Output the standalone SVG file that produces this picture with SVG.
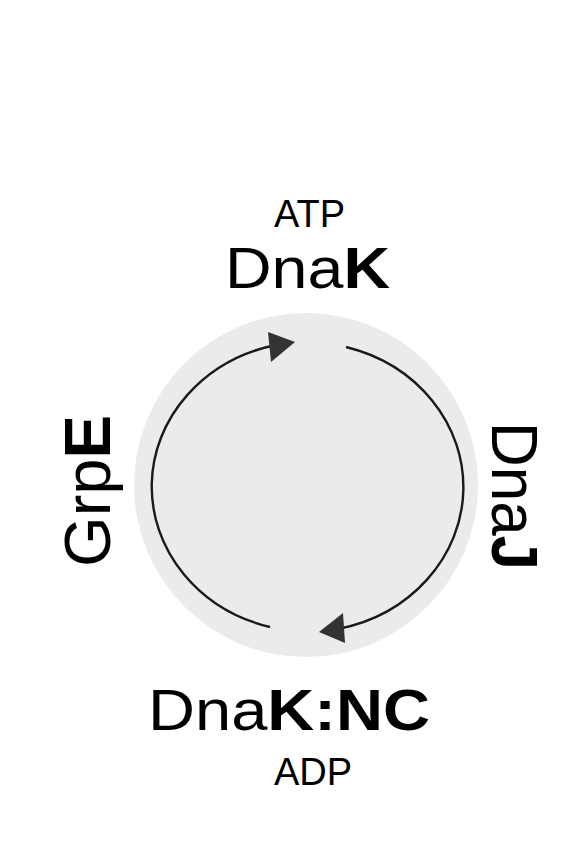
<svg xmlns="http://www.w3.org/2000/svg" width="576" height="865" viewBox="0 0 576 865">
<style>
text{font-family:"Liberation Sans",Arial,sans-serif;fill:#000}
.big{font-size:58px}
.side{font-size:64px}
.small{font-size:38px}
.b{font-weight:bold}
.arc{fill:none;stroke:#1a1a1a;stroke-width:2.4}
.head{fill:#333}
</style>
<rect width="576" height="865" fill="#fff"/>
<g id="cycle">
<circle cx="306" cy="485" r="172" fill="#ebebeb"/>
</g>
<g id="connectors">
<path class="arc" d="M270 627 A158 145 0 0 1 276 345"/>
<polygon class="head" points="295,342 268,332 271,362"/>
<path class="arc" d="M346 347 A158 145 0 0 1 338 629"/>
<polygon class="head" points="319,632 343,613 345,643"/>
</g>
<g id="dnak-atp">
<text class="small" x="309.5" y="227" text-anchor="middle">ATP</text>
<text class="big" x="225" y="288" textLength="165" lengthAdjust="spacingAndGlyphs">Dna<tspan class="b">K</tspan></text>
</g>
<g id="dnak-nc-adp">
<text class="big" x="148" y="730" textLength="282" lengthAdjust="spacingAndGlyphs">Dna<tspan class="b">K:NC</tspan></text>
<text class="small" x="313" y="785" text-anchor="middle">ADP</text>
</g>
<g id="grpe">
<text class="side" transform="translate(110,567) rotate(-90)" x="0" y="0" textLength="152" lengthAdjust="spacingAndGlyphs">Grp<tspan class="b">E</tspan></text>
</g>
<g id="dnaj">
<text class="side" transform="translate(492,422) rotate(90)" x="0" y="0" textLength="148" lengthAdjust="spacingAndGlyphs">Dna<tspan class="b">J</tspan></text>
</g>
</svg>
